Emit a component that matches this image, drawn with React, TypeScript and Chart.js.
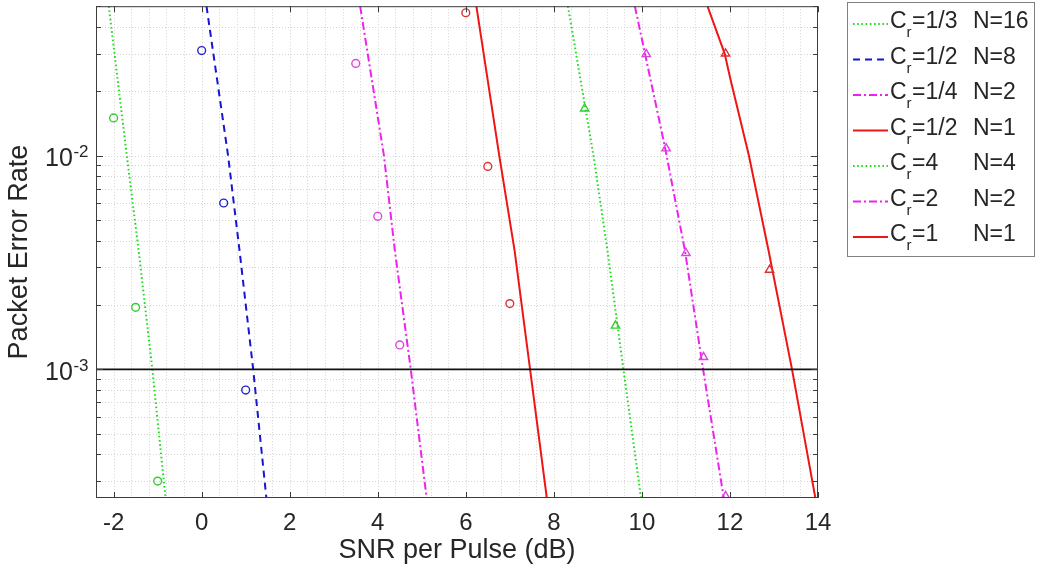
import React, { useEffect, useRef } from "react";
import { Chart, registerables } from "chart.js";

Chart.register(...registerables);

// ---------- data ----------
const X_MIN = -2.4;
const X_MAX = 14;
const Y_MIN = 2.5e-4;
const Y_MAX = 0.05;

const xTickValues = [-2, 0, 2, 4, 6, 8, 10, 12, 14];
const yTickValues = [1e-3, 1e-2];
const yTickExponents = ["-3", "-2"];

// theory curves
const th1X = [-2.11, -1.7, -1.43, -1.12, -0.82];
const th1Y = [0.05, 0.01, 3.57e-3, 1e-3, 2.5e-4];
const th2X = [0.11, 0.6, 0.86, 1.17, 1.47];
const th2Y = [0.05, 0.01, 3.6e-3, 1e-3, 2.5e-4];
const th3X = [3.6, 4.14, 4.39, 4.75, 5.11];
const th3Y = [0.05, 0.01, 3.57e-3, 1e-3, 2.5e-4];
const th4X = [6.24, 6.76, 7.11, 7.46, 7.84];
const th4Y = [0.05, 0.01, 3.57e-3, 1e-3, 2.5e-4];
const th5X = [8.32, 8.9, 9.22, 9.58, 9.98];
const th5Y = [0.05, 0.01, 3.57e-3, 1e-3, 2.5e-4];
const th6X = [9.84, 10.53, 10.98, 11.39, 11.86];
const th6Y = [0.05, 0.0108, 3.57e-3, 1e-3, 2.5e-4];
const th7X = [11.49, 11.88, 12.01, 12.43, 12.88, 13.41, 13.94];
const th7Y = [0.05, 0.03, 0.0228, 0.01, 3.57e-3, 1e-3, 2.5e-4];

// simulated points
const sim1X = [-2, -1.5, -1];
const sim1Y = [0.015, 1.95e-3, 3.0e-4];
const sim2X = [0, 0.5, 1];
const sim2Y = [0.031, 6.0e-3, 8.0e-4];
const sim3X = [3.5, 4, 4.5];
const sim3Y = [0.027, 5.2e-3, 1.3e-3];
const sim4X = [6, 6.5, 7];
const sim4Y = [0.0466, 8.9e-3, 2.03e-3];
const sim5X = [8.7, 9.4];
const sim5Y = [0.0166, 1.6e-3];
const sim6X = [10.1, 10.55, 11.0, 11.4, 11.9];
const sim6Y = [0.0298, 0.0108, 3.5e-3, 1.14e-3, 2.55e-4];
const sim7X = [11.9, 12.9];
const sim7Y = [0.03, 2.92e-3];

// reference level
const refX = [X_MIN, X_MAX];
const refY = [1e-3, 1e-3];

const legendCr = ["1/3", "1/2", "1/4", "1/2", "4", "2", "1"];
const legendN = ["16", "8", "2", "1", "4", "2", "1"];

// ---------- styles ----------
const FONT = "'Liberation Sans', Arial, Helvetica, sans-serif";
const TEXT = "#262626";
const GREEN = "#1fdc1f";
const BLUE = "#1515d6";
const MAGENTA = "#ee22ee";
const RED = "#ee1515";
const GREEN_M = "#33cc33";
const BLUE_M = "#2020cc";
const MAGENTA_M = "#dd44dd";
const RED_M = "#dd3030";
const DOT = [1.6, 2.6];
const DASH = [7, 5];
const DASHDOT = [8, 3, 2, 3];
const SOLID: number[] = [];

const thX = [th1X, th2X, th3X, th4X, th5X, th6X, th7X];
const thY = [th1Y, th2Y, th3Y, th4Y, th5Y, th6Y, th7Y];
const lineColors = [GREEN, BLUE, MAGENTA, RED, GREEN, MAGENTA, RED];
const lineDashes = [DOT, DASH, DASHDOT, SOLID, DOT, DASHDOT, SOLID];

const simX = [sim1X, sim2X, sim3X, sim4X, sim5X, sim6X, sim7X];
const simY = [sim1Y, sim2Y, sim3Y, sim4Y, sim5Y, sim6Y, sim7Y];
const markerColors = [GREEN_M, BLUE_M, MAGENTA_M, RED_M, GREEN_M, MAGENTA_M, RED_M];
const markerStyles = ["circle", "circle", "circle", "circle", "triangle", "triangle", "triangle"];

const X_GRID_STEP = 0.4;

function zip(xs: number[], ys: number[]) {
  return xs.map((x, i) => ({ x, y: ys[i] }));
}

function yMinorValues(): number[] {
  const out: number[] = [];
  for (let k = -5; k <= 0; k++) {
    for (let m = 1; m <= 9; m++) {
      const v = m * Math.pow(10, k);
      if (v >= Y_MIN * 0.999 && v <= Y_MAX * 1.001) out.push(v);
    }
  }
  return out;
}

const matlabPlugin = {
  id: "matlabLook",
  beforeDatasetsDraw(chart: any) {
    const { ctx, chartArea: a } = chart;
    const xs = chart.scales.x;
    const ys = chart.scales.y;
    ctx.save();
    ctx.beginPath();
    ctx.rect(a.left, a.top, a.right - a.left, a.bottom - a.top);
    ctx.clip();
    ctx.strokeStyle = "#d3d3d3";
    ctx.lineWidth = 1;
    ctx.setLineDash([1, 2]);
    for (let i = 0; ; i++) {
      const v = X_MIN + i * X_GRID_STEP;
      if (v > X_MAX + 1e-9) break;
      const px = Math.round(xs.getPixelForValue(v)) + 0.5;
      ctx.beginPath();
      ctx.moveTo(px, a.top);
      ctx.lineTo(px, a.bottom);
      ctx.stroke();
    }
    for (const v of yMinorValues()) {
      const py = Math.round(ys.getPixelForValue(v)) + 0.5;
      ctx.beginPath();
      ctx.moveTo(a.left, py);
      ctx.lineTo(a.right, py);
      ctx.stroke();
    }
    ctx.restore();
  },
  afterDatasetsDraw(chart: any) {
    const { ctx, chartArea: a } = chart;
    const xs = chart.scales.x;
    const ys = chart.scales.y;
    ctx.save();
    ctx.setLineDash([]);
    // box
    ctx.strokeStyle = "#3c3c3c";
    ctx.lineWidth = 1;
    ctx.strokeRect(a.left + 0.5, a.top + 0.5, a.right - a.left - 1, a.bottom - a.top - 1);
    // x ticks
    ctx.beginPath();
    for (const v of xTickValues) {
      const px = Math.round(xs.getPixelForValue(v)) + 0.5;
      ctx.moveTo(px, a.bottom);
      ctx.lineTo(px, a.bottom - 6);
      ctx.moveTo(px, a.top);
      ctx.lineTo(px, a.top + 6);
    }
    // y ticks
    for (const v of yMinorValues()) {
      const major = yTickValues.some((t) => Math.abs(t - v) / t < 1e-6);
      const len = major ? 7 : 5;
      const py = Math.round(ys.getPixelForValue(v)) + 0.5;
      ctx.moveTo(a.left, py);
      ctx.lineTo(a.left + len, py);
      ctx.moveTo(a.right, py);
      ctx.lineTo(a.right - len, py);
    }
    ctx.stroke();

    // y tick labels 10^k
    ctx.fillStyle = TEXT;
    ctx.textBaseline = "alphabetic";
    ctx.textAlign = "left";
    yTickValues.forEach((v, i) => {
      const py = ys.getPixelForValue(v);
      ctx.font = `25px ${FONT}`;
      const w1 = ctx.measureText("10").width;
      ctx.font = `17px ${FONT}`;
      const w2 = ctx.measureText(yTickExponents[i]).width;
      const supX = 88.5 - w2;
      const baseX = supX - w1 - 0.5;
      ctx.fillText(yTickExponents[i], supX, py + 1.5);
      ctx.font = `25px ${FONT}`;
      ctx.fillText("10", baseX, py + 10.5);
    });

    // legend
    const lx = 847, ly = 2, lw = 187, lh = 254;
    ctx.fillStyle = "#ffffff";
    ctx.fillRect(lx, ly, lw, lh);
    ctx.strokeStyle = "#808080";
    ctx.lineWidth = 1;
    ctx.strokeRect(lx + 0.5, ly + 0.5, lw, lh);
    for (let i = 0; i < legendCr.length; i++) {
      const yy = 24 + i * 35.5;
      ctx.strokeStyle = lineColors[i];
      ctx.lineWidth = 2;
      ctx.setLineDash(lineDashes[i]);
      ctx.beginPath();
      ctx.moveTo(853, yy);
      ctx.lineTo(888, yy);
      ctx.stroke();
      ctx.setLineDash([]);
      ctx.fillStyle = TEXT;
      ctx.font = `23px ${FONT}`;
      ctx.fillText("C", 890, yy + 4);
      const wc = ctx.measureText("C").width;
      ctx.font = `15px ${FONT}`;
      ctx.fillText("r", 890 + wc, yy + 13);
      const wr = ctx.measureText("r").width;
      ctx.font = `23px ${FONT}`;
      ctx.fillText("=" + legendCr[i], 890 + wc + wr + 0.5, yy + 4);
      ctx.fillText("N=" + legendN[i], 973, yy + 4);
    }
    ctx.restore();
  },
};

export default function App() {
  const ref = useRef<HTMLCanvasElement | null>(null);
  useEffect(() => {
    if (!ref.current) return;
    const datasets: any[] = [];
    datasets.push({
      data: zip(refX, refY),
      showLine: true,
      pointRadius: 0,
      borderColor: "#111111",
      borderWidth: 1.7,
      order: 0,
    });
    for (let i = 0; i < 7; i++) {
      datasets.push({
        data: zip(thX[i], thY[i]),
        showLine: true,
        pointRadius: 0,
        borderColor: lineColors[i],
        borderDash: lineDashes[i],
        borderWidth: 2,
        tension: 0,
        order: 2,
        clip: 0,
      });
    }
    for (let i = 0; i < 7; i++) {
      datasets.push({
        data: zip(simX[i], simY[i]),
        showLine: false,
        pointStyle: markerStyles[i],
        pointRadius: markerStyles[i] === "circle" ? 3.9 : 4.8,
        pointBackgroundColor: "rgba(0,0,0,0)",
        pointBorderColor: markerColors[i],
        pointBorderWidth: 1.4,
        order: 1,
        clip: 0,
      });
    }
    const chart = new Chart(ref.current, {
      type: "scatter",
      data: { datasets },
      plugins: [matlabPlugin],
      options: {
        animation: false,
        responsive: false,
        events: [],
        layout: { padding: { left: 0, right: 221, top: 3, bottom: 0 } },
        plugins: { legend: { display: false }, tooltip: { enabled: false } },
        scales: {
          x: {
            type: "linear",
            min: X_MIN,
            max: X_MAX,
            afterBuildTicks: (s: any) => {
              s.ticks = xTickValues.map((v) => ({ value: v }));
            },
            afterFit: (s: any) => {
              s.height = 73;
            },
            ticks: {
              autoSkip: false,
              maxRotation: 0,
              padding: 11,
              color: TEXT,
              font: { family: FONT, size: 24 },
              callback: (v: any) => String(v),
            },
            grid: { display: false, drawTicks: false },
            border: { display: false },
            title: {
              display: true,
              text: "SNR per Pulse (dB)",
              color: TEXT,
              font: { family: FONT, size: 27 },
              padding: { top: 0, bottom: 4 },
            },
          },
          y: {
            type: "logarithmic",
            min: Y_MIN,
            max: Y_MAX,
            afterFit: (s: any) => {
              s.width = 96;
            },
            ticks: { display: false },
            grid: { display: false, drawTicks: false },
            border: { display: false },
            title: {
              display: true,
              text: "Packet Error Rate",
              color: TEXT,
              font: { family: FONT, size: 27 },
              padding: { top: 3.4, bottom: 0 },
            },
          },
        },
      } as any,
    });
    return () => chart.destroy();
  }, []);
  return (
    <div style={{ position: "fixed", left: 0, top: 0, width: 1039, height: 571, background: "#fff" }}>
      <canvas ref={ref} width={1039} height={571} style={{ display: "block" }} />
    </div>
  );
}
